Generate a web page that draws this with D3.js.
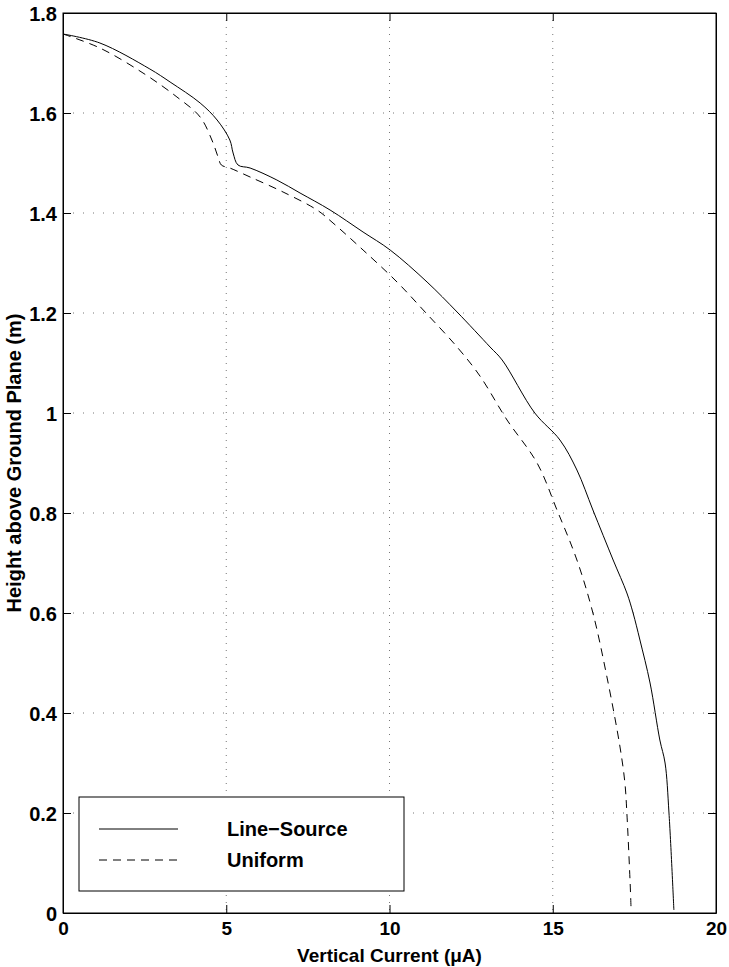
<!DOCTYPE html>
<html>
<head>
<meta charset="utf-8">
<script src="https://cdn.jsdelivr.net/npm/d3@7"></script>
<style>
  body { margin: 0; background: #fff; }
  text { font-family: "Liberation Sans", Arial, Helvetica, sans-serif; font-weight: bold; }
</style>
</head>
<body>
<svg id="chart"></svg>
<script>
// data
const lineSourceX = [0, 1.13, 2.66, 3.28, 4.2, 4.72, 5.11, 5.21, 5.36, 5.73, 6.55, 7.26, 8.18, 9.19, 10.02, 11.15, 12.07, 13.08, 13.45, 14.45, 15.22, 15.74, 16.23, 16.85, 17.27, 17.46, 17.67, 17.98, 18.28, 18.44, 18.56, 18.71];
const lineSourceY = [1.758, 1.74, 1.688, 1.662, 1.62, 1.586, 1.546, 1.52, 1.496, 1.49, 1.466, 1.44, 1.406, 1.362, 1.326, 1.262, 1.202, 1.132, 1.106, 1.0, 0.946, 0.886, 0.806, 0.706, 0.64, 0.6, 0.546, 0.46, 0.346, 0.3, 0.2, 0.006];
const uniformX = [0, 1.13, 2.45, 3.49, 4.2, 4.56, 4.75, 4.85, 5.11, 5.73, 6.74, 7.78, 8.27, 9.19, 10.23, 11.09, 12.07, 12.77, 13.6, 14.52, 15.13, 15.74, 16.23, 16.66, 17.06, 17.21, 17.27, 17.37, 17.4];
const uniformY = [1.758, 1.73, 1.68, 1.632, 1.592, 1.546, 1.512, 1.496, 1.49, 1.472, 1.442, 1.406, 1.38, 1.326, 1.262, 1.202, 1.132, 1.074, 0.986, 0.9, 0.806, 0.706, 0.6, 0.472, 0.332, 0.26, 0.2, 0.06, 0.006];
const xTicks = [0, 5, 10, 15, 20];
const yTicks = [0, 0.2, 0.4, 0.6, 0.8, 1, 1.2, 1.4, 1.6, 1.8];
const seriesNames = ["Line\u2212Source", "Uniform"];

const W = 729, H = 967;
const margin = { top: 13, right: 13, bottom: 54, left: 63 };
const width = W - margin.left - margin.right;
const height = H - margin.top - margin.bottom;
const FONT = 20;

const svg = d3.select("#chart").attr("width", W).attr("height", H);
const chart = svg.append("g").attr("transform", `translate(${margin.left},${margin.top})`);

const xScale = d3.scaleLinear().domain([0, 20]).range([0, width]);
const yScale = d3.scaleLinear().domain([0, 1.8]).range([height, 0]);

// grid (dotted, matlab style)
chart.append("g").selectAll("line.gx")
  .data(xTicks.slice(1, -1)).enter().append("line")
  .attr("x1", d => xScale(d)).attr("x2", d => xScale(d))
  .attr("y1", 0).attr("y2", height)
  .attr("stroke", "#777").attr("stroke-width", 1).attr("stroke-dasharray", "1,6");
chart.append("g").selectAll("line.gy")
  .data(yTicks.slice(1, -1)).enter().append("line")
  .attr("y1", d => yScale(d)).attr("y2", d => yScale(d))
  .attr("x1", 0).attr("x2", width)
  .attr("stroke", "#777").attr("stroke-width", 1).attr("stroke-dasharray", "1,9");

// axes, ticks pointing inward
const xAxis = d3.axisBottom(xScale).tickValues(xTicks).tickSizeInner(-8).tickSizeOuter(0).tickPadding(9);
const yAxis = d3.axisLeft(yScale).tickValues(yTicks).tickSizeInner(-8).tickSizeOuter(0).tickPadding(6)
  .tickFormat(d => d3.format("")(+d.toFixed(1)));
const gx = chart.append("g").attr("transform", `translate(0,${height})`).call(xAxis);
const gy = chart.append("g").call(yAxis);
chart.append("g").call(d3.axisTop(xScale).tickValues(xTicks).tickSizeInner(-8).tickSizeOuter(0).tickFormat(""));
chart.append("g").attr("transform", `translate(${width},0)`)
  .call(d3.axisRight(yScale).tickValues(yTicks).tickSizeInner(-8).tickSizeOuter(0).tickFormat(""));
chart.selectAll(".domain").attr("stroke", "#000");
chart.selectAll(".tick line").attr("stroke", "#000");
gx.selectAll("text").attr("font-size", 19).attr("fill", "#000");
gy.selectAll("text").attr("font-size", FONT).attr("fill", "#000").attr("dy", "0.36em");

// box
chart.append("rect").attr("width", width).attr("height", height)
  .attr("fill", "none").attr("stroke", "#000").attr("stroke-width", 1);

// curves
const line = d3.line().x(d => xScale(d[0])).y(d => yScale(d[1])).curve(d3.curveCatmullRom.alpha(0.5));
const lineSource = lineSourceX.map((x, i) => [x, lineSourceY[i]]);
const uniform = uniformX.map((x, i) => [x, uniformY[i]]);
chart.append("path").attr("d", line(lineSource))
  .attr("fill", "none").attr("stroke", "#000").attr("stroke-width", 1);
chart.append("path").attr("d", line(uniform))
  .attr("fill", "none").attr("stroke", "#000").attr("stroke-width", 1)
  .attr("stroke-dasharray", "8,6");

// legend
const legend = chart.append("g").attr("transform", `translate(${79 - margin.left},${797 - margin.top})`);
legend.append("rect").attr("width", 325).attr("height", 94)
  .attr("fill", "#fff").attr("stroke", "#000").attr("stroke-width", 1);
const dashes = [null, "8,6"];
seriesNames.forEach((name, i) => {
  const ly = 32 + i * 31;
  legend.append("line").attr("x1", 20).attr("x2", 99).attr("y1", ly).attr("y2", ly)
    .attr("stroke", "#000").attr("stroke-width", 1)
    .attr("stroke-dasharray", dashes[i]);
  legend.append("text").attr("x", 148).attr("y", ly).attr("dy", "0.35em")
    .attr("font-size", FONT).text(name);
});

// axis labels
svg.append("text").attr("x", margin.left + width / 2).attr("y", 962)
  .attr("text-anchor", "middle").attr("font-size", 19).text("Vertical Current (\u03bcA)");
svg.append("text").attr("transform", `translate(21,${margin.top + height / 2}) rotate(-90)`)
  .attr("text-anchor", "middle").attr("font-size", FONT).text("Height above Ground Plane (m)");
</script>
</body>
</html>
